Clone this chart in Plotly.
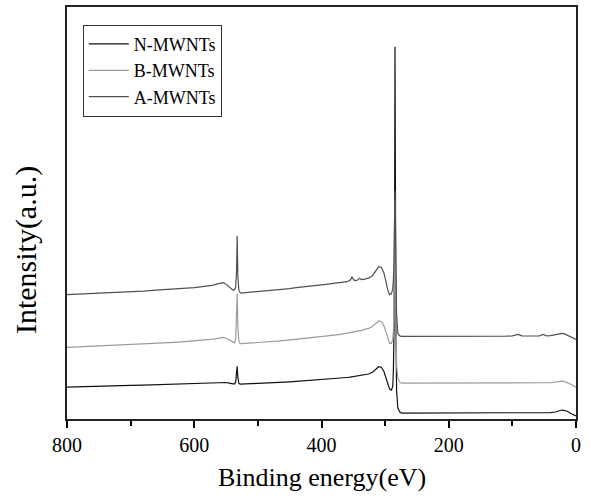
import plotly.graph_objects as go

# Binding energy grid (eV)
energy = [800, 780, 760, 740, 720, 700, 680, 660, 640, 620, 600,
          590, 580, 570, 565, 560, 555, 550, 545, 540, 537, 535,
          533.5, 532.5, 531.5, 530, 528, 525, 520,
          510, 500, 490, 480, 470, 460, 450, 440, 430, 420, 410, 400, 390, 380, 370, 360,
          355, 352, 349, 345, 340, 337, 332, 326, 320, 315, 310, 306, 302, 299, 296, 293, 290,
          288, 287, 286, 285, 284.5, 284, 283, 282, 280, 277, 274, 270,
          260, 250, 240, 230, 220, 210, 200, 190, 180, 170, 160, 150, 140, 130, 120, 110, 100,
          91, 85, 75, 65, 58, 52, 46, 40, 33, 27, 22, 18, 13, 8, 4, 0]

# Intensities (a.u.)
a_mwnts = [125, 125.5, 126, 126.8, 127.2, 128, 128.5, 129.5, 130.2, 131, 132,
           132.8, 133.5, 134.5, 135.5, 136.5, 137, 135.5, 132.5, 130, 129.5, 132,
           149, 184, 144, 130, 127, 126.5, 127,
           127.5, 128, 128.7, 129, 129.7, 130.5, 131, 132, 132.5, 133.2, 134, 134.7, 135.5, 136.3, 137, 138,
           139.5, 142.5, 139.5, 139, 141.5, 140, 140.5, 141.5, 144, 149, 153, 152.5, 147, 139, 130, 125, 126,
           131, 140, 160, 200, 229, 210, 150, 105, 86, 83.5, 83, 83,
           82.7, 83, 83.2, 82.8, 83, 83.3, 83, 82.8, 83.1, 83, 83.2, 82.9, 83, 83.3, 83, 83.2, 83.5,
           85, 83.5, 83.2, 83.6, 83.4, 85, 83.5, 83.8, 84.5, 85.5, 86, 85.5, 84, 82.5, 81, 80]

b_mwnts = [72, 72.5, 73, 73.5, 74, 74.8, 75.3, 76, 76.7, 77.5, 78.3,
           79, 79.5, 80.2, 80.7, 81.5, 82, 81.2, 79.5, 77.5, 76.5, 79,
           99, 126, 94, 79, 76, 75.7, 76,
           76.3, 76.7, 77.2, 77.7, 78.2, 78.8, 79.4, 80, 80.6, 81.2, 81.8, 82.6, 83.3, 84.2, 85, 86,
           86.5, 87.2, 87.5, 88, 88.5, 89, 90, 91, 93, 96, 98.5, 98, 94, 88, 81, 76, 76,
           80, 89, 109, 169, 219, 189, 99, 54, 41, 37, 36, 36,
           35.8, 36, 36.2, 35.9, 36, 36.1, 35.8, 36, 36.2, 35.9, 36, 36.1, 35.9, 36, 36.2, 36, 36.1,
           36.3, 36, 35.9, 36.2, 36.1, 36.4, 36.2, 36.5, 37, 37.8, 38, 37.5, 36.5, 35, 33.5, 32]

n_mwnts = [32, 32.2, 32.6, 33, 33.3, 33.7, 34, 34.4, 34.8, 35.2, 35.6,
           35.8, 36, 36.4, 36.5, 36.7, 37, 36.7, 36, 35.2, 35, 37,
           45, 53, 42, 36, 35, 35, 35.2,
           35.5, 35.8, 36, 36.4, 36.7, 37, 37.4, 37.8, 38.2, 38.7, 39.1, 39.5, 40, 40.5, 41, 41.7,
           42, 42.3, 42.7, 43, 43.4, 43.8, 44.4, 45.2, 47, 50, 52.5, 52, 48, 42, 35, 30, 29,
           33, 49, 89, 219, 374, 269, 89, 29, 11, 7, 6, 6,
           6, 5.8, 6, 6.1, 5.9, 6, 6.1, 5.9, 6, 6, 6.1, 5.9, 6, 6.1, 6, 5.9, 6,
           6, 6.1, 5.9, 6, 6.1, 6, 6.2, 6.4, 7, 8.5, 9, 8.5, 7.5, 5.5, 4.5, 3]

series_names = ["N-MWNTs", "B-MWNTs", "A-MWNTs"]
series_values = [n_mwnts, b_mwnts, a_mwnts]
series_colors = ["#111111", "#9c9c9c", "#505050"]

x_ticks = [800, 600, 400, 200, 0]

FONT = "Liberation Serif, Times New Roman, serif"

fig = go.Figure()
for name, vals, col in zip(series_names, series_values, series_colors):
    fig.add_trace(go.Scatter(x=energy, y=vals, mode="lines", name=name,
                             line=dict(color=col, width=1.2)))

fig.update_layout(
    width=591, height=500, autosize=False,
    margin=dict(l=67, r=15, t=5, b=81),
    plot_bgcolor="white", paper_bgcolor="white",
    font=dict(family=FONT, color="black"),
    showlegend=True,
    legend=dict(x=0.031, y=0.957, xanchor="left", yanchor="top",
                bordercolor="#333", borderwidth=1, bgcolor="white",
                font=dict(family=FONT, size=18, color="black"),
                tracegroupgap=0, itemwidth=40),
    xaxis=dict(range=[800, 0], tickvals=x_ticks, ticks="outside", ticklen=7, tickwidth=1.5,
               tickcolor="black",
               minor=dict(dtick=100, tick0=0, ticks="outside", ticklen=5, tickwidth=1.5, tickcolor="black"),
               showline=True, linewidth=2, linecolor="#222", mirror=True,
               showgrid=False, zeroline=False,
               tickfont=dict(family=FONT, size=20, color="black")),
    yaxis=dict(range=[0, 414], showticklabels=False, ticks="",
               showline=True, linewidth=2, linecolor="#222", mirror=True,
               showgrid=False, zeroline=False),
    annotations=[
        dict(text="Binding energy(eV)", xref="paper", yref="paper", x=0.5, y=-0.1425,
             xanchor="center", yanchor="middle", showarrow=False,
             font=dict(family=FONT, size=26, color="black")),
        dict(text="Intensity(a.u.)", xref="paper", yref="paper", x=-0.0805, y=0.41,
             xanchor="center", yanchor="middle", showarrow=False, textangle=-90,
             font=dict(family=FONT, size=30, color="black")),
    ],
)

fig.write_html("out.html",
               config={"displayModeBar": False},
               post_script="document.body.style.margin='0px';document.body.style.padding='0px';")
